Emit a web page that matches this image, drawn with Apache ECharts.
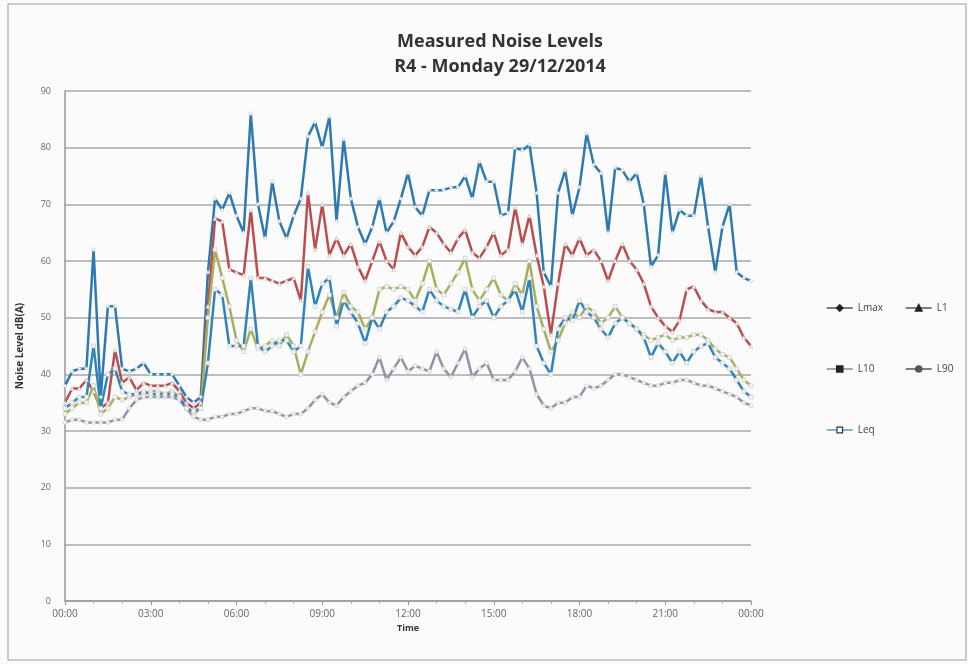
<!DOCTYPE html>
<html>
<head>
<meta charset="utf-8">
<script src="https://cdn.jsdelivr.net/npm/echarts@6/dist/echarts.min.js"></script>
<style>
  html, body { margin: 0; padding: 0; background: #fbfbfb; }
  #chart { width: 968px; height: 664px; }
</style>
</head>
<body>
<div id="chart"></div>
<script>
// 15 minute readings, 00:00 -> 24:00
const lmax = [38, 40.5, 41, 41, 62, 36, 52, 52, 41, 40.5, 41, 42, 40, 40, 40, 40, 38, 36, 35, 36,
  58, 71, 69, 72, 68, 65, 86, 70, 64, 74, 67, 64, 68, 71, 82, 84.5, 80, 85.5, 67, 81.5,
  71, 66, 63, 66, 71, 65, 67, 71, 75.5, 69.5, 68, 72.5, 72.5, 72.5, 73, 73, 75, 71, 77.5, 74,
  74, 68, 68.5, 80, 79.5, 80.5, 72, 58, 55.5, 72, 76, 68, 73, 82.5, 77, 75.5, 65, 76.5, 76, 74,
  75.5, 70, 59, 61, 75.5, 65, 69, 68, 68, 75, 66, 58, 66, 70, 58, 57, 56.5]
const l1 = [35, 37.5, 37.5, 39, 37, 34, 35, 44.3, 38.5, 39.5, 37.2, 38.5, 38, 38, 38, 38.5, 37, 35, 34, 35,
  52, 67.5, 67, 58.5, 58, 57.5, 69, 57, 57, 56.5, 56, 56.5, 57, 53, 72, 62, 70, 61, 64, 61,
  63, 59, 56.5, 60, 63.5, 60, 58.5, 65, 62.5, 61, 62.5, 66, 65, 63, 61.5, 64, 65.5, 61.5, 60.5, 62.5,
  65, 61, 62, 69.5, 63, 68, 61, 55.5, 47, 56, 63, 61, 64, 61, 62, 60, 56.5, 60, 63, 60,
  58.5, 56, 52, 50, 48.5, 47.5, 49.5, 55, 55.5, 53, 51.5, 51, 51, 50, 49, 46.5, 45]
const l10 = [33, 34, 35, 35, 38, 33, 34, 36, 35.5, 36, 36.5, 36.5, 37, 37, 36.5, 37, 36, 34, 33, 34,
  50, 62, 57, 52, 46, 44, 48, 44.5, 45, 46, 45, 47, 45, 40, 44, 47.5, 51, 54, 50, 54.5,
  52, 51, 48, 50, 55, 55.5, 55, 55.5, 55, 53, 56, 60, 55, 54, 56, 58, 60.5, 55, 53, 55,
  57, 54, 53, 56, 54, 60, 52, 48, 44, 46, 49, 51, 50, 52, 51, 49, 50, 52, 50, 49,
  48, 47, 46, 46.5, 47, 46, 46.5, 46.5, 47, 47, 46, 44.5, 43.5, 43, 41, 39, 38]
const l90 = [31.5, 32, 32, 31.5, 31.5, 31.5, 31.5, 32, 32, 34, 35.5, 36, 36, 36, 36, 36, 35.5, 34, 32.5, 32,
  32, 32.5, 32.5, 33, 33, 33.5, 34, 34, 33.5, 33.5, 33, 32.5, 33, 33, 34, 35.5, 36.5, 35, 34.5, 36,
  37, 38, 38.5, 40, 43, 39, 41, 43, 40.5, 41.5, 41, 40.5, 44, 41, 39.5, 42, 44.5, 39.5, 41, 42,
  39, 39, 39, 40.5, 43, 41, 36.5, 34.5, 34, 35, 35, 36, 36, 38, 37.5, 38, 39, 40, 40, 39.5,
  39, 38.5, 38, 38, 38.5, 38.5, 39, 39, 38.5, 38, 38, 37.5, 37, 36.5, 36, 35, 34.5]
const leq = [34, 35, 36, 36, 45, 34, 40, 41, 37, 36.5, 36.5, 37, 36.5, 36.5, 36.5, 36.5, 36, 34, 33.5, 34,
  42, 55, 54, 45, 45, 45, 57, 45, 44, 45, 46, 46, 44, 45, 59, 52, 56, 57, 48.5, 53,
  51, 49, 45.5, 50, 48, 51, 52, 53.5, 53, 52, 51, 55, 53, 52, 51.5, 51, 55, 50, 52, 53,
  50, 52, 53, 55, 51, 57, 45, 42, 40, 48, 50, 49.5, 53, 51, 50, 48, 46.5, 49, 50, 49,
  48, 46.5, 43, 45.5, 44, 42, 44, 42, 44, 45, 45.5, 43, 42, 41, 39, 37, 36]

const yTicks = [0, 10, 20, 30, 40, 50, 60, 70, 80, 90]
const xTickHours = [0, 3, 6, 9, 12, 15, 18, 21, 24]

// time of each reading in hours
const hours = lmax.map((v, i) => i / 4)
const pair = arr => arr.map((v, i) => [hours[i], v])

function hhmm(h) {
  const hh = h % 24
  return (hh < 10 ? '0' : '') + hh + ':00'
}

const myChart = echarts.init(document.getElementById('chart'))

const markerStyle = {
  color: '#f2f2f2',
  borderColor: '#c8c8c8',
  borderWidth: 0.6,
}

function makeSeries(name, data, color, symbol) {
  return {
    name: name,
    type: 'line',
    data: pair(data),
    symbol: symbol,
    symbolSize: 4,
    showSymbol: true,
    lineStyle: { color: color, width: 2.5 },
    itemStyle: Object.assign({}, markerStyle),
    emphasis: { disabled: true },
    animation: false,
  }
}

const legendText = { color: '#444', fontSize: 10, fontFamily: 'Open Sans' }
const legendCommon = {
  orient: 'vertical',
  top: 298,
  itemGap: 51,
  itemWidth: 26,
  itemHeight: 7,
  textStyle: legendText,
}

const options = {
  backgroundColor: '#fbfbfb',
  title: {
    text: 'Measured Noise Levels\nR4 - Monday 29/12/2014',
    left: 495,
    top: 24,
    textAlign: 'center',
    textStyle: {
      fontFamily: 'Open Sans',
      fontWeight: 'bold',
      fontSize: 18,
      lineHeight: 25,
      color: '#333',
    },
  },
  grid: {
    left: 65,
    right: 217,
    top: 91,
    bottom: 63,
  },
  legend: [
    Object.assign({}, legendCommon, {
      left: 821,
      data: [
        { name: 'Lmax', itemStyle: { color: '#222', borderColor: '#222' }, lineStyle: { color: '#555', width: 1.5 } },
        { name: 'L10', itemStyle: { color: '#222', borderColor: '#222' }, lineStyle: { color: '#888', width: 1.5 } },
        { name: 'Leq', itemStyle: { color: '#fff', borderColor: '#333', borderWidth: 1.2 }, lineStyle: { color: '#5a9cc8', width: 1.5 } },
      ],
    }),
    Object.assign({}, legendCommon, {
      left: 900,
      data: [
        { name: 'L1', itemStyle: { color: '#222', borderColor: '#222' }, lineStyle: { color: '#555', width: 1.5 } },
        { name: 'L90', itemStyle: { color: '#555', borderColor: '#555' }, lineStyle: { color: '#555', width: 1.5 } },
      ],
    }),
  ],
  xAxis: {
    type: 'value',
    min: 0,
    max: 24,
    interval: 3,
    name: 'Time',
    nameLocation: 'middle',
    nameGap: 17,
    nameTextStyle: { fontFamily: 'Open Sans', fontWeight: 'bold', fontSize: 9, color: '#333' },
    axisLine: { lineStyle: { color: '#999', width: 1.5 } },
    axisTick: { show: true, length: 4, lineStyle: { color: '#999' } },
    minorTick: { show: true, splitNumber: 3, length: 3, lineStyle: { color: '#aaa' } },
    splitLine: { show: false },
    axisLabel: {
      color: '#666',
      fontSize: 10,
      fontFamily: 'Open Sans',
      margin: 8,
      formatter: v => (xTickHours.indexOf(v) >= 0 ? hhmm(v) : ''),
    },
  },
  yAxis: {
    type: 'value',
    min: 0,
    max: 90,
    interval: 10,
    name: 'Noise Level dB(A)',
    nameLocation: 'middle',
    nameGap: 40,
    nameTextStyle: { fontFamily: 'Open Sans', fontWeight: 'bold', fontSize: 10, color: '#333' },
    axisLine: { show: true, lineStyle: { color: '#999', width: 1.5 } },
    axisTick: { show: false },
    splitLine: { lineStyle: { color: '#a8a8a8', width: 1.5 } },
    axisLabel: {
      color: '#666',
      fontSize: 9,
      fontFamily: 'Open Sans',
      margin: 14,
      formatter: v => (yTicks.indexOf(v) >= 0 ? v : ''),
    },
  },
  series: [
    makeSeries('Lmax', lmax, '#2d79b2', 'diamond'),
    makeSeries('L1', l1, '#bb4d4f', 'triangle'),
    makeSeries('L10', l10, '#a4b05c', 'rect'),
    makeSeries('L90', l90, '#9a90a6', 'circle'),
    makeSeries('Leq', leq, '#2f84ba', 'rect'),
  ],
  graphic: [
    {
      type: 'rect',
      shape: { x: 8, y: 4, width: 958, height: 656 },
      style: { fill: 'none', stroke: '#bbb', lineWidth: 1.5 },
      silent: true,
    },
  ],
}

myChart.setOption(options)
window.addEventListener('resize', () => {
  myChart.resize()
})
</script>
</body>
</html>
